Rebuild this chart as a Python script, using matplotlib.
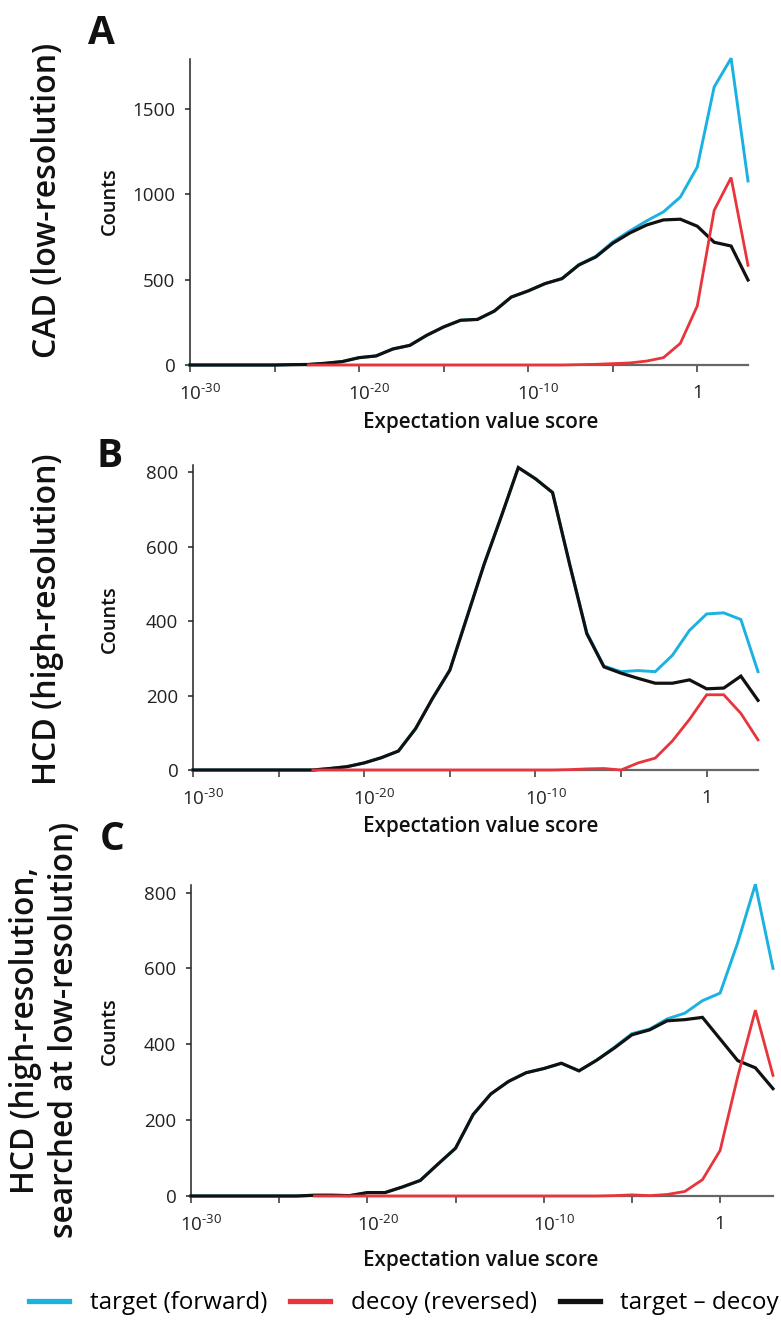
import numpy as np
import matplotlib
matplotlib.use("Agg")
import matplotlib.pyplot as plt
from matplotlib.lines import Line2D
from matplotlib.transforms import ScaledTranslation

nan = float("nan")

# ---------------- data (one point per decade of E-value) ----------------
exponents = list(range(-30, 4))          # 10^-30 ... 10^3

# Panel A: CAD (low-resolution)
a_target = [0, 0, 0, 0, 0, 0, 2, 3, 10, 20, 43, 53, 94, 115, 174, 223, 262, 267,
            316, 398, 434, 477, 506, 588, 637, 721, 785, 844, 897, 984, 1160,
            1629, 1797, 1078]
a_decoy = [nan, nan, nan, nan, nan, nan, nan, 0, 0, 0, 0, 0, 0, 0, 0, 0, 0, 0,
           0, 0, 0, 0, 0, 2, 4, 8, 12, 23, 43, 127, 346, 906, 1098, 584]
a_diff = [0, 0, 0, 0, 0, 0, 2, 3, 10, 20, 43, 53, 94, 115, 174, 223, 262, 267,
          316, 398, 434, 477, 506, 586, 633, 713, 773, 820, 850, 854, 813,
          719, 697, 498]

# Panel B: HCD (high-resolution)
b_target = [0, 0, 0, 0, 0, 0, 0, 0, 4, 9, 19, 33, 51, 111, 193, 268, 410, 552,
            680, 812, 782, 745, 553, 369, 279, 264, 267, 264, 308, 375, 419,
            422, 404, 264]
b_decoy = [nan, nan, nan, nan, nan, nan, nan, 0, 0, 0, 0, 0, 0, 0, 0, 0, 0, 0,
           0, 0, 0, 0, 1, 3, 4, 0, 19, 32, 78, 136, 202, 202, 152, 81]
b_diff = [0, 0, 0, 0, 0, 0, 0, 0, 4, 9, 19, 33, 51, 111, 193, 268, 410, 552,
          680, 812, 782, 745, 552, 366, 277, 260, 246, 233, 233, 242, 218,
          220, 252, 187]

# Panel C: HCD searched at low resolution
c_target = [0, 0, 0, 0, 0, 0, 0, 2, 2, 1, 9, 9, 24, 41, 84, 126, 215, 269,
            302, 325, 336, 350, 330, 358, 392, 428, 440, 467, 482, 515, 535,
            668, 822, 600]
c_decoy = [nan, nan, nan, nan, nan, nan, nan, 0, 0, 0, 0, 0, 0, 0, 0, 0, 0, 0,
           0, 0, 0, 0, 0, 0, 1, 3, 1, 4, 12, 43, 120, 315, 490, 318]
c_diff = [0, 0, 0, 0, 0, 0, 0, 2, 2, 1, 9, 9, 24, 41, 84, 126, 215, 269,
          302, 325, 336, 350, 330, 358, 390, 425, 438, 462, 465, 471, 414,
          357, 338, 283]

panel_letters = ["A", "B", "C"]
row_titles = ["CAD (low-resolution)", "HCD (high-resolution)",
              "HCD (high-resolution,\nsearched at low-resolution)"]
y_label = "Counts"
x_label = "Expectation value score"
a_yticks = [0, 500, 1000, 1500]
bc_yticks = [0, 200, 400, 600, 800]
x_tick_exps = [-30, -25, -20, -15, -10, -5, 0]
x_tick_labels = [r"$\mathregular{10^{\text{-}30}}$", "",
                 r"$\mathregular{10^{\text{-}20}}$", "",
                 r"$\mathregular{10^{\text{-}10}}$", "", "1"]
legend_labels = ["target (forward)", "decoy (reversed)", "target \u2013 decoy"]

# ---------------- style ----------------
BLUE = "#1BB1E0"
RED = "#E8343B"
BLACK = "#111111"
FONT = "Open Sans"
plt.rcParams["font.family"] = [FONT, "DejaVu Sans"]
plt.rcParams["mathtext.fontset"] = "custom"
plt.rcParams["mathtext.rm"] = FONT
plt.rcParams["mathtext.it"] = FONT
plt.rcParams["mathtext.bf"] = FONT

W, H, DPI = 781, 1332, 100
fig = plt.figure(figsize=(W / DPI, H / DPI), dpi=DPI)


def rect(left, right, top, bottom):
    return [left / W, 1 - bottom / H, (right - left) / W, (bottom - top) / H]


def fx(x):
    return x / W


def fy(y):
    return 1 - y / H


xs = [10.0 ** e for e in exponents]

panels = [
    dict(rect=rect(190, 748, 58.6, 365), ylim=1795, yticks=a_yticks,
         data=(a_target, a_diff, a_decoy), letter=(101, 33),
         title=(48, 200), counts=(110, 201), xl=412),
    dict(rect=rect(193, 758, 464.6, 770), ylim=820, yticks=bc_yticks,
         data=(b_target, b_diff, b_decoy), letter=(110, 456),
         title=(48, 619), counts=(110, 619), xl=816),
    dict(rect=rect(191, 773, 885, 1196), ylim=820, yticks=bc_yticks,
         data=(c_target, c_diff, c_decoy), letter=(112, 839),
         title=(45, 1030), counts=(110, 1031), xl=1250),
]

TICK_FS = 13.5
axes = []
for p in panels:
    ax = fig.add_axes(p["rect"])
    tgt, dif, dec = p["data"]
    ax.plot(xs, tgt, color=BLUE, lw=2.1, zorder=2, clip_on=False,
            solid_joinstyle="miter")
    ax.plot(xs, dif, color=BLACK, lw=2.3, zorder=3, clip_on=False,
            solid_joinstyle="miter")
    ax.plot(xs, dec, color=RED, lw=2.0, zorder=4, clip_on=False,
            solid_joinstyle="miter")
    ax.set_xscale("log")
    ax.set_xlim(1e-30, 1e3)
    ax.set_ylim(0, p["ylim"])
    ax.set_yticks(p["yticks"])
    ax.set_xticks([10.0 ** e for e in x_tick_exps])
    ax.set_xticklabels(x_tick_labels)
    ax.xaxis.set_minor_locator(matplotlib.ticker.NullLocator())
    for s in ("top", "right"):
        ax.spines[s].set_visible(False)
    ax.spines["left"].set_color("#222222")
    ax.spines["left"].set_linewidth(1.1)
    ax.spines["bottom"].set_color("#666666")
    ax.spines["bottom"].set_linewidth(1.6)
    ax.tick_params(axis="x", direction="out", length=5, width=1.2,
                   color="#444444", pad=8.5, labelsize=TICK_FS,
                   labelcolor="#222222")
    ax.tick_params(axis="y", direction="out", length=3.6, width=1.1,
                   color="#222222", pad=7, labelsize=TICK_FS,
                   labelcolor="#222222")
    ax.set_facecolor("none")
    axes.append(ax)

fig.canvas.draw()
r = fig.canvas.get_renderer()

# width of "10" to centre the base of the power labels on the tick
tmp = fig.text(0, 0, "10", fontsize=TICK_FS)
w10 = tmp.get_window_extent(r).width
tmp.remove()
for ax in axes:
    for lab in ax.get_xticklabels():
        if lab.get_text().startswith("$"):
            lab.set_ha("left")
            lab.set_transform(lab.get_transform() +
                              ScaledTranslation(-w10 / 2 / DPI, 0,
                                                fig.dpi_scale_trans))


def fit(t, target, dim):
    bb = t.get_window_extent(r)
    cur = bb.width if dim == "w" else bb.height
    t.set_fontsize(t.get_fontsize() * target / cur)


title_lengths = [315, 332, 415]
for p, letter, title, tl in zip(panels, panel_letters, row_titles, title_lengths):
    lx, ly = p["letter"]
    fig.text(fx(lx), fy(ly), letter, fontsize=28, fontweight="bold",
             ha="center", va="center", color="#111111")
    tx, ty = p["title"]
    t = fig.text(fx(tx), fy(ty), title, fontsize=20, fontweight="semibold",
                 rotation=90, ha="center", va="center", color="#111111",
                 linespacing=1.25, multialignment="center")
    fit(t, tl, "h")
    cx, cy = p["counts"]
    c = fig.text(fx(cx), fy(cy), y_label, fontsize=12, fontweight="semibold",
                 rotation=90, ha="center", va="center", color="#111111")
    fit(c, 68, "h")
    xt = fig.text(fx(481), fy(p["xl"]), x_label, fontsize=14,
                  fontweight="semibold", ha="center", va="top",
                  color="#111111")
    fit(xt, 238, "w")

# legend
tmp = fig.text(0, 0, legend_labels[0], fontsize=16)
leg_fs = 16 * 178 / tmp.get_window_extent(r).width
tmp.remove()
handles = [Line2D([], [], color=BLUE, lw=3.8),
           Line2D([], [], color=RED, lw=3.8),
           Line2D([], [], color=BLACK, lw=3.8)]
fig.legend(handles, legend_labels, loc="center", ncol=3, frameon=False,
           bbox_to_anchor=(fx(404), fy(1303)), fontsize=leg_fs,
           handlelength=1.65, handletextpad=0.85, columnspacing=0.95,
           borderpad=0, borderaxespad=0)

fig.savefig("out.png", dpi=DPI)
